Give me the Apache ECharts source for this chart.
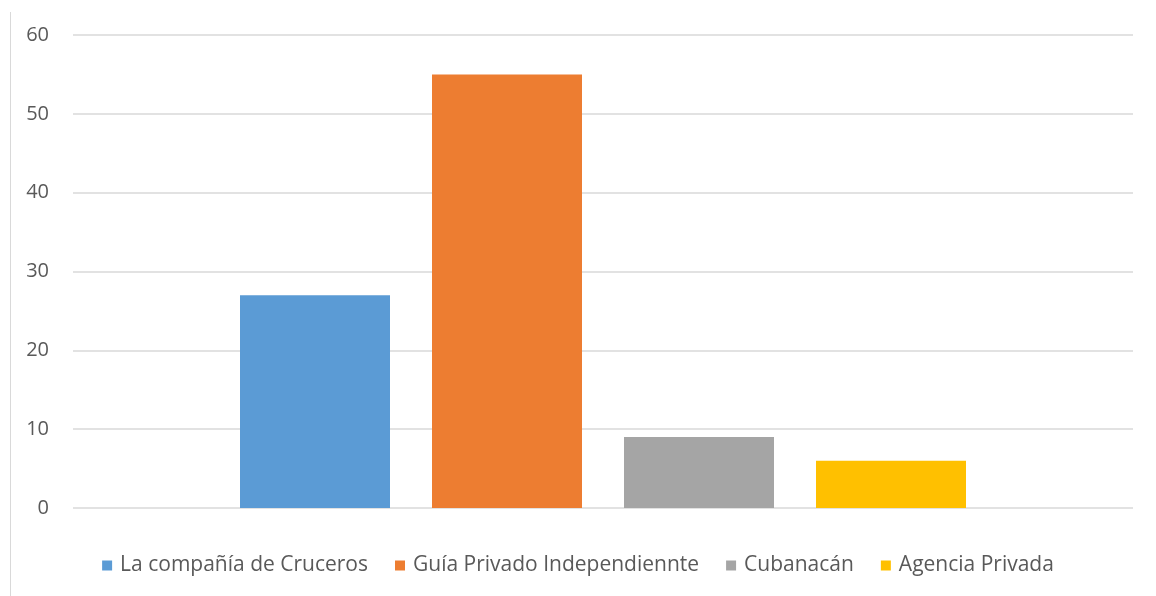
<!DOCTYPE html>
<html>
<head>
<meta charset="utf-8">
<script src="https://cdn.jsdelivr.net/npm/echarts@6/dist/echarts.min.js"></script>
<style>
  html, body { margin: 0; padding: 0; background: #fff; }
  #main { width: 1156px; height: 596px; }
</style>
</head>
<body>
<div id="main"></div>
<script>
// data
let seriesNames = ["La compañía de Cruceros", "Guía Privado Independiennte", "Cubanacán", "Agencia Privada"];
let seriesValues = [27, 55, 9, 6];
let seriesColors = ["#5B9BD5", "#ED7D31", "#A5A5A5", "#FFC000"];
let categories = [""];

let myChart = document.getElementById("main");
let initChart = echarts.init(myChart, null, { renderer: "canvas" });

let option = {
  animation: false,
  textStyle: { fontFamily: "Open Sans" },

  grid: { left: 73, right: 23, top: 35, bottom: 88, containLabel: false },

  legend: {
    data: seriesNames,
    top: 550,
    left: "center",
    icon: "rect",
    itemWidth: 10,
    itemHeight: 10,
    itemGap: 27,
    textStyle: {
      color: "#595959",
      fontSize: 21,
      fontFamily: "Open Sans",
      padding: [0, 0, 0, 3],
    },
  },

  xAxis: {
    type: "category",
    data: categories,
    axisLine: { show: false },
    axisTick: { show: false },
    axisLabel: { show: false },
  },

  yAxis: {
    type: "value",
    min: 0,
    max: 60,
    interval: 10,
    axisLine: { show: false },
    axisTick: { show: false },
    axisLabel: { color: "#595959", fontSize: 20, margin: 24 },
    splitLine: { lineStyle: { color: "#D9D9D9", width: 1.5 } },
  },

  // 每个公司一个系列
  series: seriesNames.map((name, i) => ({
    name: name,
    type: "bar",
    data: [seriesValues[i]],
    barWidth: 150,
    barGap: "28%",
    itemStyle: { color: seriesColors[i] },
  })),

  // left border line of the chart area
  graphic: [
    {
      type: "line",
      shape: { x1: 10.5, y1: 12, x2: 10.5, y2: 596 },
      style: { stroke: "#D9D9D9", lineWidth: 1 },
    },
  ],
};

initChart.setOption(option);
</script>
</body>
</html>
